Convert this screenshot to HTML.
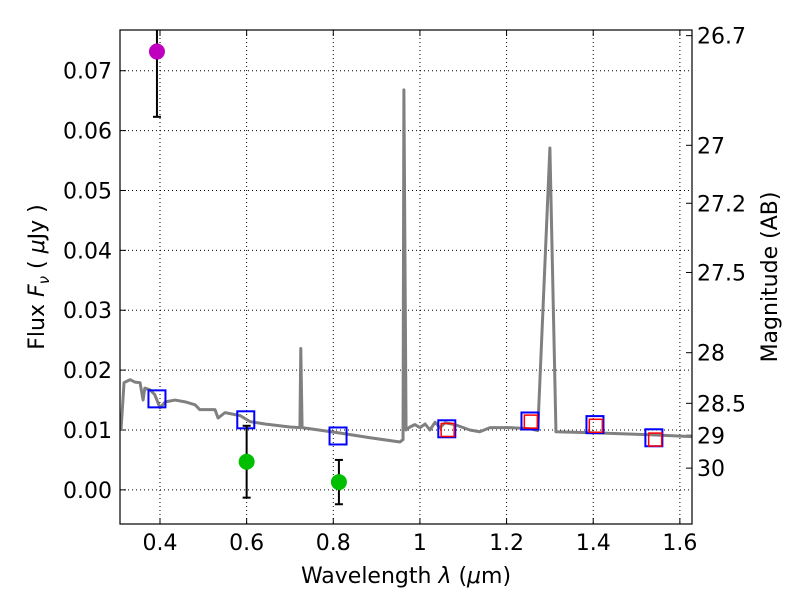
<!DOCTYPE html>
<html><head><meta charset="utf-8"><style>
body{margin:0;background:#fff;width:800px;height:600px;overflow:hidden;position:relative}
text{font-family:"DejaVu Sans","Liberation Sans",sans-serif;fill:#000}
</style></head><body>
<svg id="chart" width="800" height="600" xmlns="http://www.w3.org/2000/svg"></svg>
<script>
const specLam=[0.310,0.317,0.331,0.342,0.354,0.361,0.365,0.377,0.388,0.400,0.412,0.435,0.458,0.481,0.492,0.527,0.534,0.550,0.585,0.608,0.642,0.700,0.723,0.725,0.728,0.815,0.885,0.954,0.961,0.963,0.968,0.977,0.988,1.000,1.012,1.023,1.035,1.046,1.058,1.081,1.115,1.138,1.162,1.208,1.254,1.272,1.300,1.314,1.415,1.531,1.628];
const specFlux=[0.0100,0.0179,0.0184,0.0180,0.0179,0.0150,0.0170,0.0167,0.0159,0.0137,0.0147,0.0150,0.0147,0.0142,0.0134,0.0134,0.0120,0.0129,0.0124,0.0114,0.0110,0.0105,0.0104,0.0236,0.0104,0.0095,0.0087,0.0080,0.0084,0.0668,0.0100,0.0105,0.0109,0.0104,0.0110,0.0100,0.0113,0.0104,0.0112,0.0109,0.0100,0.0097,0.0104,0.0104,0.0102,0.0099,0.0571,0.0097,0.0095,0.0092,0.0089];
const modelLam=[0.393,0.598,0.811,1.062,1.254,1.404,1.540];
const modelFlux=[0.0152,0.0117,0.0090,0.0102,0.0115,0.0109,0.0087];
const redLam=[1.064,1.256,1.406,1.543];
const redFlux=[0.0100,0.0114,0.0107,0.0084];
const obsLam=[0.393,0.600,0.813];
const obsFlux=[0.0732,0.0047,0.0013];
const obsErr=[0.0109,0.0060,0.0037];
const obsColor=['#bf00bf','#00bf00','#00bf00'];
const xTicks=[0.4,0.6,0.8,1.0,1.2,1.4,1.6];
const xTickLabels=['0.4','0.6','0.8','1','1.2','1.4','1.6'];
const yTicks=[0,0.01,0.02,0.03,0.04,0.05,0.06,0.07];
const yTickLabels=['0.00','0.01','0.02','0.03','0.04','0.05','0.06','0.07'];
const magTicks=[26.7,27,27.2,27.5,28,28.5,29,30];
const magTickLabels=['26.7','27','27.2','27.5','28','28.5','29','30'];

const L=120,R=692,T=30,B=524,xmin=0.3077,xmax=1.628,ymin=-0.0057,ymax=0.0768;
const X=v=>L+(v-xmin)/(xmax-xmin)*(R-L);
const Y=v=>B-(v-ymin)/(ymax-ymin)*(B-T);
const svg=document.getElementById('chart');
const NS='http://www.w3.org/2000/svg';
function mk(tag,attrs,parent){const e=document.createElementNS(NS,tag);for(const k in attrs)e.setAttribute(k,attrs[k]);(parent||svg).appendChild(e);return e;}
const clip=mk('clipPath',{id:'pc'});mk('rect',{x:L,y:T,width:R-L,height:B-T},clip);
const grid=mk('g',{});


xTicks.forEach((t,i)=>{const x=X(t);
 mk('line',{x1:x,x2:x,y1:T,y2:B,stroke:'#000','stroke-width':1,'stroke-dasharray':'1,3'},grid);
 mk('line',{x1:x,x2:x,y1:B,y2:B-6,stroke:'#000'});mk('line',{x1:x,x2:x,y1:T,y2:T+6,stroke:'#000'});
 const tx=mk('text',{x:x,y:B+26,'text-anchor':'middle','font-size':22});tx.textContent=xTickLabels[i];
 
 });
yTicks.forEach((t,i)=>{const y=Y(t);
 mk('line',{x1:L,x2:R,y1:y,y2:y,stroke:'#000','stroke-width':1,'stroke-dasharray':'1,3'},grid);
 mk('line',{x1:L,x2:L+6,y1:y,y2:y,stroke:'#000'});
 const tx=mk('text',{x:L-8,y:y+8,'text-anchor':'end','font-size':22});tx.textContent=yTickLabels[i];
 
 });
magTicks.forEach((m,i)=>{const y=Y(Math.pow(10,(23.9-m)/2.5));
 mk('line',{x1:R-6,x2:R,y1:y,y2:y,stroke:'#000'});
 const tx=mk('text',{x:R+5,y:y+8,'font-size':22});tx.textContent=magTickLabels[i];
 
 });
const g=mk('g',{'clip-path':'url(#pc)'});
const sp=mk('polyline',{points:specLam.map((l,i)=>X(l)+','+Y(specFlux[i])).join(' '),fill:'none',stroke:'#808080','stroke-width':3,'stroke-linejoin':'round'},g);


modelLam.forEach((l,i)=>{const r=mk('rect',{x:X(l)-8.5,y:Y(modelFlux[i])-8.5,width:17,height:17,fill:'none',stroke:'#0000ff','stroke-width':2},g);
 
 });
redLam.forEach((l,i)=>{const r=mk('rect',{x:X(l)-6.5,y:Y(redFlux[i])-6.5,width:13,height:13,fill:'none',stroke:'#ff0000','stroke-width':1.5},g);
 
 });
obsLam.forEach((l,i)=>{const x=X(l),y1=Y(obsFlux[i]+obsErr[i]),y2=Y(obsFlux[i]-obsErr[i]);
 const eb=mk('g',{},g);
 
 
 mk('line',{x1:x,x2:x,y1:y1,y2:y2,stroke:'#000','stroke-width':2},eb);
 mk('line',{x1:x-4,x2:x+4,y1:y1,y2:y1,stroke:'#000','stroke-width':2},eb);
 mk('line',{x1:x-4,x2:x+4,y1:y2,y2:y2,stroke:'#000','stroke-width':2},eb);
 const c=mk('circle',{cx:x,cy:Y(obsFlux[i]),r:8,fill:obsColor[i]},g);
 
 });
const fr=mk('rect',{x:L,y:T,width:R-L,height:B-T,fill:'none',stroke:'#000','stroke-width':1.2});


</script>
<svg style="position:absolute;left:0;top:0" width="800" height="600" xmlns="http://www.w3.org/2000/svg">
<text x="406" y="583" text-anchor="middle" font-size="22">Wavelength  <tspan font-style="italic">λ</tspan> (<tspan font-style="italic">μ</tspan>m)</text>
<text transform="translate(44,277) rotate(-90)" text-anchor="middle" font-size="22">Flux  <tspan font-style="italic">F</tspan><tspan font-style="italic" font-size="15" dy="5">ν</tspan><tspan dy="-5">  ( </tspan><tspan font-style="italic">μ</tspan>Jy )</text>
<text transform="translate(777,277) rotate(-90)" text-anchor="middle" font-size="22">Magnitude (AB)</text>
</svg>
</body></html>
